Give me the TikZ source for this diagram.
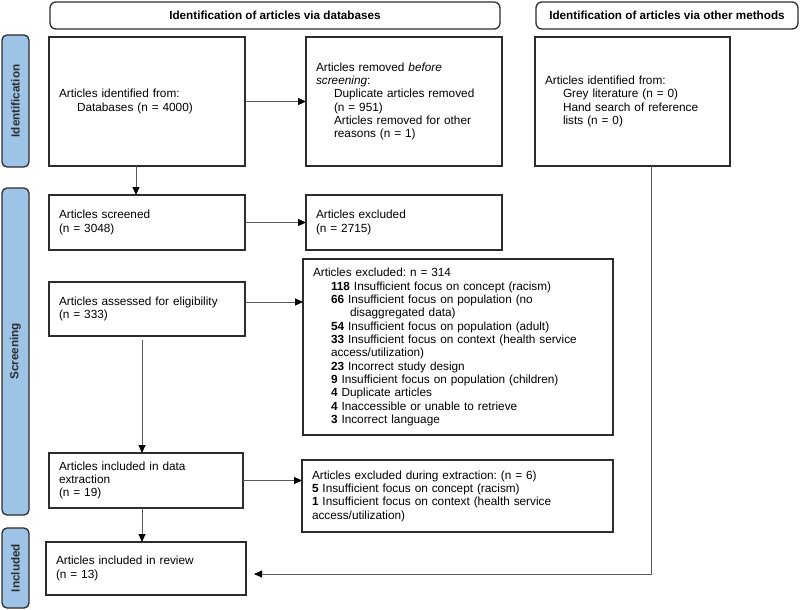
\documentclass[tikz,border=0pt]{standalone}
\usepackage{fontspec}
\setmainfont{Liberation Sans}
\usetikzlibrary{arrows.meta,positioning}
\definecolor{barblue}{RGB}{157,195,230}
\definecolor{edge}{RGB}{45,45,45}
\newcommand{\txtsize}{\fontsize{11.8}{13.33}\selectfont\frenchspacing}
\newcommand{\hdsize}{\fontsize{11.7}{13.3}\selectfont}
\newcommand{\ind}{\hspace*{18pt}}
\tikzset{
  box/.style={draw=edge, line width=1.3pt, fill=white, anchor=north west, align=left,
    inner xsep=10pt, inner ysep=0pt, outer sep=0pt, font=\txtsize},
  header/.style={draw=edge, line width=1.3pt, fill=white, rounded corners=6pt, anchor=north west,
    inner sep=0pt, outer sep=0pt, font=\hdsize\bfseries},
  sidebar/.style={draw=edge, line width=1.3pt, fill=barblue, rounded corners=5pt,
    rotate=90, inner sep=0pt, outer sep=0pt, minimum height=27pt, font=\hdsize\bfseries, text=edge},
  arr/.style={draw=black!65, line width=0.9pt, -{Triangle[length=8pt,width=7pt,color=black]}},
}
\begin{document}
\begin{tikzpicture}[x=1pt,y=-1pt]
\useasboundingbox (0,0) rectangle (800,610);

% headers
\node[header, minimum width=450pt, minimum height=27pt] (h1) at (50,2) {Identification of articles via databases};
\node[header, minimum width=262pt, minimum height=27pt] (h2) at (536,2) {Identification of articles via other methods};

% side bars
\node[sidebar, minimum width=132pt] (s1) at (15.5,101) {Identification};
\node[sidebar, minimum width=327pt] (s2) at (15.5,351.5) {Screening};
\node[sidebar, minimum width=80pt] (s3) at (15.5,568) {Included};

% boxes
\node[box, text width=176pt, minimum height=129pt] (A) at (49,37)
  {Articles identified from:\\\ind Databases (n = 4000)};
\node[box, text width=176pt, minimum height=129pt] (B) at (306,37)
  {Articles removed \emph{before}\\\emph{screening}:\\\ind Duplicate articles removed\\\ind (n = 951)\\\ind Articles removed for other\\\ind reasons (n = 1)};
\node[box, text width=175pt, minimum height=129pt] (C) at (535,37)
  {Articles identified from:\\\ind Grey literature (n = 0)\\\ind Hand search of reference\\\ind lists (n = 0)};

\node[box, text width=176pt, minimum height=55pt] (scr) at (49,195)
  {Articles screened\\(n = 3048)};
\node[box, text width=176pt, minimum height=55pt] (ex1) at (306,195)
  {Articles excluded\\(n = 2715)};

\node[box, text width=176pt, minimum height=54pt] (ass) at (49,282)
  {Articles assessed for eligibility\\(n = 333)};
\node[box, text width=290pt, minimum height=176pt] (ex2) at (303,259)
  {Articles excluded: n = 314\\
   \ind\textbf{118} Insufficient focus on concept (racism)\\
   \ind\textbf{66} Insufficient focus on population (no\\
   \ind\hspace*{19pt}disaggregated data)\\
   \ind\textbf{54} Insufficient focus on population (adult)\\
   \ind\textbf{33} Insufficient focus on context (health service\\
   \ind access/utilization)\\
   \ind\textbf{23} Incorrect study design\\
   \ind\textbf{9} Insufficient focus on population (children)\\
   \ind\textbf{4} Duplicate articles\\
   \ind\textbf{4} Inaccessible or unable to retrieve\\
   \ind\textbf{3} Incorrect language};

\node[box, text width=174pt, minimum height=55pt] (ext) at (49,453)
  {Articles included in data\\extraction\\(n = 19)};
\node[box, text width=291pt, minimum height=72pt] (ex3) at (302,460)
  {Articles excluded during extraction: (n = 6)\\
   \textbf{5} Insufficient focus on concept (racism)\\
   \textbf{1} Insufficient focus on context (health service\\
   access/utilization)};

\node[box, text width=180pt, minimum height=53pt] (rev) at (46,542)
  {Articles included in review\\(n = 13)};

% connectors
\coordinate (c1) at (136,0);
\coordinate (c2) at (142,0);
\coordinate (c3) at (651,0);
\draw[arr] (A.east) -- (B.west);
\draw[arr] (A.south -| c1) -- (scr.north -| c1);
\draw[arr] (scr.east) -- (ex1.west);
\draw[arr] ([yshift=7pt]ass.east) -- ([yshift=7pt]ass.east -| ex2.west);
\draw[arr] ([yshift=-4pt]ass.south -| c2) -- (ext.north -| c2);
\draw[arr] (ext.east) -- (ext.east -| ex3.west);
\draw[arr] (ext.south -| c2) -- (rev.north -| c2);
\draw[arr] (C.south -| c3) |- ([xshift=8pt,yshift=-5.5pt]rev.east);
\end{tikzpicture}
\end{document}
